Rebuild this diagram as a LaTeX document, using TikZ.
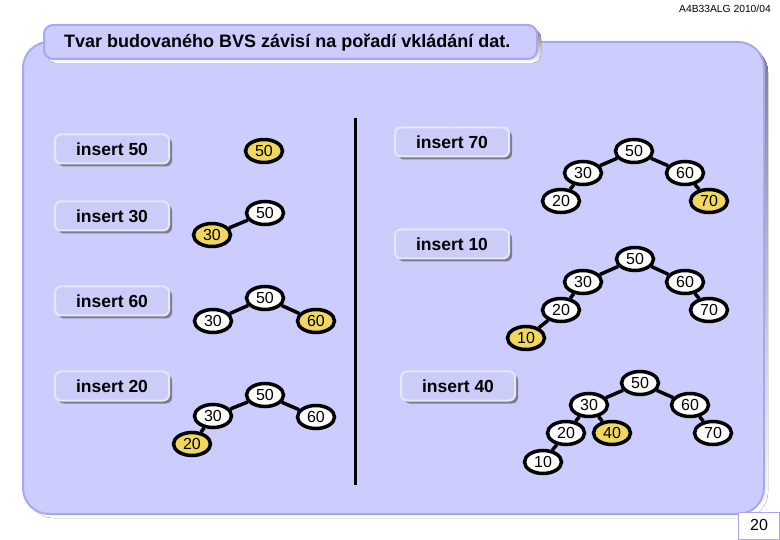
\documentclass[tikz,border=0pt]{standalone}
\usepackage{fontspec}
\setmainfont{Liberation Sans}
\usetikzlibrary{shapes.geometric,shadows}
\definecolor{panel}{HTML}{CCCCFF}
\definecolor{panelline}{HTML}{A8A8F0}
\definecolor{shade}{HTML}{7C7C8C}
\definecolor{boxfill}{HTML}{CCCCF8}
\definecolor{boxline}{HTML}{E6E6FF}
\definecolor{hl}{HTML}{F0D860}
\begin{document}
\begin{tikzpicture}[x=1pt,y=-1pt,
  tn/.style={ellipse, draw=black, line width=3.5pt, fill=white, minimum width=37pt, minimum height=23pt, inner sep=0pt, font=\fontsize{16}{16}\selectfont},
  hn/.style={tn, fill=hl},
  ins/.style={rounded corners=6pt, fill=boxfill, draw=boxline, line width=2pt, minimum width=114pt, minimum height=29pt, inner sep=0pt, font=\bfseries\fontsize{17.5}{17.5}\selectfont, drop shadow={shadow xshift=3pt, shadow yshift=-3pt, fill=shade, opacity=1}},
  ed/.style={line width=3.5pt}]
\useasboundingbox (0,0) rectangle (780,540);
\fill[white] (0,0) rectangle (780,540);
% header
\node[font=\fontsize{10.3}{10.3}\selectfont, anchor=east, inner sep=0pt] (hdr) at (771,9) {A4B33ALG 2010/04};
% main panel
\fill[shade, rounded corners=26pt] (27,46) rectangle (768,518);
\filldraw[fill=panel, draw=panelline, line width=2pt, rounded corners=26pt] (23,42) rectangle (764,514);
% title
\fill[shade, rounded corners=9pt] (47,29) rectangle (541,63);
\filldraw[fill=panel, draw=panelline, line width=2pt, rounded corners=9pt] (44,25) rectangle (537,59);
\node[anchor=west, inner sep=0pt, font=\bfseries\fontsize{18}{18}\selectfont] (title) at (64,43) {Tvar budovaného BVS závisí na pořadí vkládání dat.};
% page number
\filldraw[fill=white, draw=panelline, line width=1pt] (738,512) rectangle (779,539);
\node[font=\fontsize{16}{16}\selectfont] (pg) at (759,525) {20};
% divider
\coordinate (dtop) at (355,118);
\coordinate (dbot) at (355,485);
\draw[line width=3pt] (dtop) -- (dbot);
% insert boxes
\node[ins] (i50) at (112,149) {insert 50};
\node[ins] (i30) at (112,216) {insert 30};
\node[ins] (i60) at (112,301) {insert 60};
\node[ins] (i20) at (112,386) {insert 20};
\node[ins] (i70) at (452,142) {insert 70};
\node[ins] (i10) at (452,244) {insert 10};
\node[ins] (i40) at (458,386) {insert 40};
% tree 1
\node[hn] (a50) at (264,151) {50};
% tree 2
\node[tn] (b50) at (265,213) {50};
\node[hn] (b30) at (212,235) {30};
\draw[ed] (b50) -- (b30);
% tree 3
\node[tn] (c50) at (265,298) {50};
\node[tn] (c30) at (213,321) {30};
\node[hn] (c60) at (316,321) {60};
\draw[ed] (c50) -- (c30);
\draw[ed] (c50) -- (c60);
% tree 4
\node[tn] (d50) at (265,395) {50};
\node[tn] (d30) at (213,416) {30};
\node[tn] (d60) at (316,417) {60};
\node[hn] (d20) at (192,444) {20};
\draw[ed] (d50) -- (d30);
\draw[ed] (d50) -- (d60);
\draw[ed] (d30) -- (d20);
% tree 5 (insert 70)
\node[tn] (e50) at (634,151) {50};
\node[tn] (e30) at (583,173) {30};
\node[tn] (e60) at (685,173) {60};
\node[tn] (e20) at (561,201) {20};
\node[hn] (e70) at (709,201) {70};
\draw[ed] (e50) -- (e30);
\draw[ed] (e50) -- (e60);
\draw[ed] (e30) -- (e20);
\draw[ed] (e60) -- (e70);
% tree 6 (insert 10)
\node[tn] (f50) at (635,259) {50};
\node[tn] (f30) at (583,282) {30};
\node[tn] (f60) at (685,282) {60};
\node[tn] (f20) at (561,310) {20};
\node[tn] (f70) at (709,310) {70};
\node[hn] (f10) at (526,338) {10};
\draw[ed] (f50) -- (f30);
\draw[ed] (f50) -- (f60);
\draw[ed] (f30) -- (f20);
\draw[ed] (f60) -- (f70);
\draw[ed] (f20) -- (f10);
% tree 7 (insert 40)
\node[tn] (g50) at (640,383) {50};
\node[tn] (g30) at (589,405) {30};
\node[tn] (g60) at (690,405) {60};
\node[tn] (g20) at (566,433) {20};
\node[hn] (g40) at (612,433) {40};
\node[tn] (g70) at (713,433) {70};
\node[tn] (g10) at (543,462) {10};
\draw[ed] (g50) -- (g30);
\draw[ed] (g50) -- (g60);
\draw[ed] (g30) -- (g20);
\draw[ed] (g30) -- (g40);
\draw[ed] (g60) -- (g70);
\draw[ed] (g20) -- (g10);
\end{tikzpicture}
\end{document}
